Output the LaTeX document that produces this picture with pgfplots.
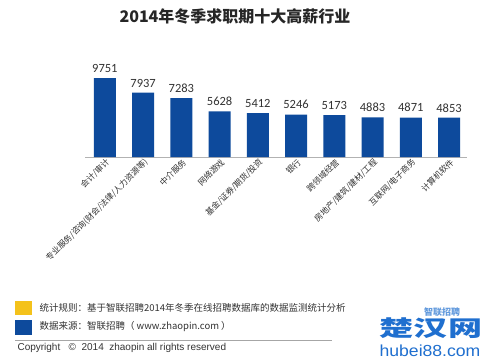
\documentclass[border=0pt]{standalone}
\usepackage{fontspec}
\usepackage{pgfplots}
\pgfplotsset{compat=1.18}
\setmainfont{Carlito}
\newfontfamily\cjk{Noto Sans CJK SC}
\newfontfamily\lib{Liberation Sans}
\definecolor{barblue}{HTML}{0D4A9C}
\definecolor{ylw}{HTML}{F4C21B}
\definecolor{txtgray}{HTML}{333333}
\definecolor{wmblue}{HTML}{1F6FCF}
\begin{document}
\begin{tikzpicture}[x=1pt,y=1pt]
\fill[white] (0,0) rectangle (490,362);
\node[font=\cjk\bfseries\fontsize{16}{18}\selectfont, text=black!85] at (235,346) {2014年冬季求职期十大高薪行业};
\begin{axis}[
  at={(85pt,205pt)}, anchor=south west,
  width=382pt, height=97.2pt, scale only axis,
  xmin=-0.52, xmax=9.47, ymin=0, ymax=12000,
  axis y line=none, axis x line*=bottom,
  x axis line style={draw=gray!60, line width=0.8pt, -},
  xtick=data, major tick length=0pt,
  xticklabels={{会计/审计},{专业服务/咨询(财会/法律/人力资源等)},{中介服务},{网络游戏},{基金/证券/期货/投资},{银行},{跨领域经营},{房地产/建筑/建材/工程},{互联网/电子商务},{计算机软件}},
  xticklabel style={rotate=45, anchor=east, font=\cjk\fontsize{8.3}{9}\selectfont, text=txtgray, yshift=-5pt, xshift=3pt},
  ybar, bar width=22pt,
  nodes near coords,
  /pgf/number format/.cd, 1000 sep={}, assume math mode=true, /pgfplots/.cd,
  every node near coord/.append style={font=\fontsize{12.5}{14}\selectfont, text=txtgray, yshift=2pt},
  clip=false,
]
\addplot[fill=barblue, draw=none] coordinates {
(0,9751) (1,7937) (2,7283) (3,5628) (4,5412) (5,5246) (6,5173) (7,4883) (8,4871) (9,4853)};
\end{axis}
% footer
\fill[ylw] (15,47) rectangle (32,61);
\fill[barblue] (15,27) rectangle (32,42);
\node[anchor=west, font=\cjk\fontsize{9.5}{11}\selectfont, text=txtgray] at (36,54) {统计规则：基于智联招聘2014年冬季在线招聘数据库的数据监测统计分析};
\node[anchor=west, font=\cjk\fontsize{9.5}{11}\selectfont, text=txtgray] at (36,35) {数据来源：智联招聘（ www.zhaopin.com ）};
\draw[gray!70, line width=0.6pt] (15,22) -- (332,22);
\node[anchor=west, font=\lib\fontsize{10}{12}\selectfont, text=txtgray] at (14,14) {Copyright \ \ ©\ \ 2014\ \ zhaopin\ all\ rights\ reserved};
% watermark
\node[font=\cjk\bfseries\fontsize{9}{10}\selectfont, text=wmblue!70] at (442,50) {智联招聘};
\node[font=\cjk\bfseries\fontsize{22}{24}\selectfont, text=wmblue, xscale=1.55] at (431,34) {楚汉网};
\node[font=\lib\fontsize{16}{18}\selectfont, text=wmblue, xscale=1.1] at (430,11) {hubei88.com};
\pgfresetboundingbox
\path[use as bounding box] (0,0) rectangle (490,362);
\end{tikzpicture}
\end{document}
